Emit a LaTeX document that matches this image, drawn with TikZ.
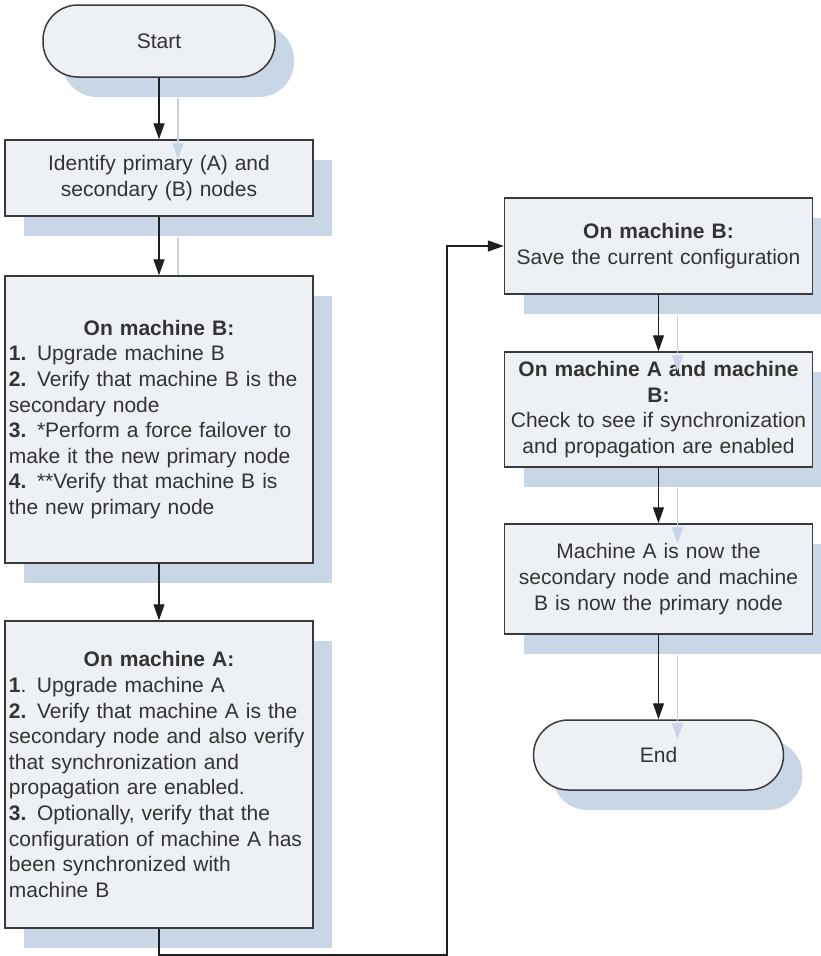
\documentclass[tikz,border=0pt]{standalone}
\usepackage{fontspec}
\setmainfont{Liberation Sans}
\usetikzlibrary{arrows.meta,shadows}
\definecolor{boxfill}{HTML}{EDF0F5}
\definecolor{shadowc}{HTML}{C9D6E5}
\definecolor{shline}{HTML}{C6D4E7}
\definecolor{txt}{HTML}{333333}
\definecolor{edgec}{HTML}{3A3A3A}
\definecolor{connc}{HTML}{1E1E1E}
\begin{document}
\begin{tikzpicture}[x=1pt,y=-1pt,
  nodebase/.style={draw=edgec, line width=1.5pt, fill=boxfill, text=txt,
    font=\fontsize{21}{25.6}\selectfont,
    general shadow={fill=shadowc, shadow xshift=19pt, shadow yshift=-20pt}},
  box/.style={nodebase, minimum width=308pt, text width=300pt, inner xsep=4pt, inner ysep=2pt},
  term/.style={nodebase, rounded corners=35pt, align=center},
  conn/.style={draw=connc, line width=1.3pt, -{Triangle[length=16pt,width=11pt]}},
  shconn/.style={draw=shline, line width=1.3pt, -{Triangle[length=16pt,width=11pt]}},
  shplain/.style={draw=shline, line width=1.3pt}
]
\fill[white] (0,0) rectangle (821,956);
\useasboundingbox (0,0) rectangle (821,956);

\node[term, minimum width=232pt, minimum height=72pt] (start) at (159,41) {Start};
\node[box, align=center, minimum height=76pt] (b1) at (159,178) {Identify primary (A) and\\secondary (B) nodes};
\node[box, align=left, minimum height=287pt] (b2) at (159,419.5) {%
\makebox[\linewidth]{\textbf{On machine B:}}\\
\textbf{1.} Upgrade machine B\\
\textbf{2.} Verify that machine B is the\\
secondary node\\
\textbf{3.} *Perform a force failover to\\
make it the new primary node\\
\textbf{4.} **Verify that machine B is\\
the new primary node};
\node[box, align=left, minimum height=307pt] (b3) at (159,774.5) {%
\makebox[\linewidth]{\textbf{On machine A:}}\\
\textbf{1}. Upgrade machine A\\
\textbf{2.} Verify that machine A is the\\
secondary node and also verify\\
that synchronization and\\
propagation are enabled.\\
\textbf{3.} Optionally, verify that the\\
configuration of machine A has\\
been synchronized with\\
machine B};
\node[box, align=center, minimum height=96pt] (b4) at (658.5,246) {\textbf{On machine B:}\\Save the current configuration};
\node[box, align=center, minimum height=115pt] (b5) at (658.5,409.5) {\textbf{On machine A and machine}\\\textbf{B:}\\Check to see if synchronization\\and propagation are enabled};
\node[box, align=center, minimum height=110pt] (b6) at (658.5,579) {Machine A is now the\\secondary node and machine\\B is now the primary node};
\node[term, minimum width=250pt, minimum height=70pt] (end) at (658.5,755) {End};

% connector shadows
\draw[shconn] ([shift={(19,20)}]start.south) -- ([xshift=19pt,yshift=-20pt]b1.north);
\draw[shplain] ([shift={(19,20)}]b1.south) -- ([xshift=19pt]b2.north);
\draw[shconn] ([shift={(19,20)}]b4.south) -- ([xshift=19pt,yshift=-20pt]b5.north);
\draw[shconn] ([shift={(19,20)}]b5.south) -- ([xshift=19pt,yshift=-20pt]b6.north);
\draw[shconn] ([shift={(19,20)}]b6.south) -- ([xshift=19pt,yshift=-20pt]end.north);

% connectors
\coordinate (lp) at (447,955);
\draw[conn] (start.south) -- (b1.north);
\draw[conn] (b1.south) -- (b2.north);
\draw[conn] (b2.south) -- (b3.north);
\draw[conn] (b3.south) |- (lp) |- (b4.west);
\draw[conn] (b4.south) -- (b5.north);
\draw[conn] (b5.south) -- (b6.north);
\draw[conn] (b6.south) -- (end.north);
\end{tikzpicture}
\end{document}
